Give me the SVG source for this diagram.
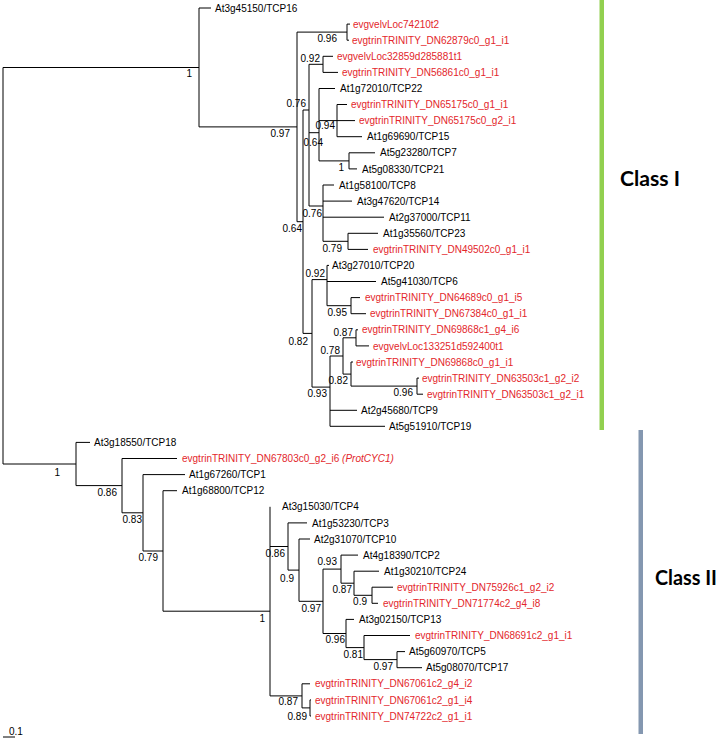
<svg xmlns="http://www.w3.org/2000/svg" width="721" height="739" viewBox="0 0 721 739">
<style>
.br{fill:none;stroke:#000;stroke-width:1}
.lf{font-family:"Liberation Sans",Arial,sans-serif;font-size:10px;fill:#000}
.rd{fill:#e3262b}
.bs{font-family:"Liberation Sans",Arial,sans-serif;font-size:10px;fill:#000;text-anchor:end}
.cl{font-family:Lato,"Open Sans",sans-serif;font-size:21px;font-weight:bold;fill:#000}
</style>
<rect width="721" height="739" fill="#fff"/>
<g id="connectors" class="br">
<path d="M3,67.5V464M3,67.5H199M3,464H76"/>
<path d="M199,8V126.9M199,8H211M199,126.9H297"/>
<path d="M297,32.1V221.7M297,32.1H347M297,221.7H303"/>
<path d="M347,24.1V40.2M347,24.1H350M347,40.2H349"/>
<path d="M303,110V333.4M303,110H309M303,333.4H312"/>
<path d="M309,64.3V206M309,64.3H323M309,132.7H319M309,206H323"/>
<path d="M323,56.3V72.4M323,56.3H333M323,72.4H338"/>
<path d="M319,88.5V160.9M319,88.5H335M319,120.6H337M319,160.9H349"/>
<path d="M337,104.5V136.7M337,104.5H347M337,120.6H355M337,136.7H362"/>
<path d="M349,152.8V168.9M349,152.8H375M349,168.9H357"/>
<path d="M323,185V241.3M323,185H334M323,201.1H352M323,217.2H384M323,241.3H348"/>
<path d="M348,233.3V249.4M348,233.3H378M348,249.4H368"/>
<path d="M312,279.6V387.1M312,279.6H327M312,387.1H330"/>
<path d="M327,265.4V305.7M327,265.4H329M327,281.5H376M327,305.7H351"/>
<path d="M351,297.6V313.7M351,297.6H360M351,313.7H366"/>
<path d="M330,356V426.3M330,356H343M330,410.3H357M330,426.3H385"/>
<path d="M343,337.8V374.1M343,337.8H356M343,374.1H351"/>
<path d="M356,329.8V345.9M356,329.8H358M356,345.9H369"/>
<path d="M351,362V386.1M351,362H353M351,386.1H417"/>
<path d="M417,378.1V394.2M417,378.1H419M417,394.2H423"/>
<path d="M76,442.4V485.6M76,442.4H90M76,485.6H122"/>
<path d="M122,458.5V512.8M122,458.5H177M122,512.8H143"/>
<path d="M143,474.6V551M143,474.6H185M143,551H163"/>
<path d="M163,490.7V611.2M163,490.7H177M163,611.2H270"/>
<path d="M270,506.8V695.9M270,546.5H288M270,695.9H302"/>
<path d="M288,522.9V570.1M288,522.9H307M288,570.1H299"/>
<path d="M299,539V601.3M299,539H310M299,601.3H323"/>
<path d="M323,569.1V633.5M323,569.1H341M323,633.5H346"/>
<path d="M341,555.1V583.2M341,555.1H358M341,583.2H354"/>
<path d="M354,571.2V595.3M354,571.2H379M354,595.3H372"/>
<path d="M372,587.2V603.3M372,587.2H393M372,603.3H378"/>
<path d="M346,619.4V647.6M346,619.4H354M346,647.6H364"/>
<path d="M364,635.5V659.6M364,635.5H410M364,659.6H397"/>
<path d="M397,651.6V667.7M397,651.6H405M397,667.7H422"/>
<path d="M302,683.8V707.9M302,683.8H310M302,707.9H310"/>
<path d="M310,699.9V716M310,699.9H311M310,716H311"/>
<path d="M3,737H15"/>
</g>
<g id="leaves">
<g id="leaf-TCP16"><text class="lf" x="215" y="11.6">At3g45150/TCP16</text></g>
<g id="leaf-velv74210"><text class="lf rd" x="353" y="27.7">evgvelvLoc74210t2</text></g>
<g id="leaf-DN62879"><text class="lf rd" x="352" y="43.8">evgtrinTRINITY_DN62879c0_g1_i1</text></g>
<g id="leaf-velv32859"><text class="lf rd" x="337" y="59.9">evgvelvLoc32859d285881t1</text></g>
<g id="leaf-DN56861"><text class="lf rd" x="342" y="76">evgtrinTRINITY_DN56861c0_g1_i1</text></g>
<g id="leaf-TCP22"><text class="lf" x="340" y="92.1">At1g72010/TCP22</text></g>
<g id="leaf-DN65175g1"><text class="lf rd" x="351" y="108.1">evgtrinTRINITY_DN65175c0_g1_i1</text></g>
<g id="leaf-DN65175g2"><text class="lf rd" x="359" y="124.2">evgtrinTRINITY_DN65175c0_g2_i1</text></g>
<g id="leaf-TCP15"><text class="lf" x="367" y="140.3">At1g69690/TCP15</text></g>
<g id="leaf-TCP7"><text class="lf" x="380" y="156.4">At5g23280/TCP7</text></g>
<g id="leaf-TCP21"><text class="lf" x="362" y="172.5">At5g08330/TCP21</text></g>
<g id="leaf-TCP8"><text class="lf" x="339" y="188.6">At1g58100/TCP8</text></g>
<g id="leaf-TCP14"><text class="lf" x="357" y="204.7">At3g47620/TCP14</text></g>
<g id="leaf-TCP11"><text class="lf" x="389" y="220.8">At2g37000/TCP11</text></g>
<g id="leaf-TCP23"><text class="lf" x="383" y="236.9">At1g35560/TCP23</text></g>
<g id="leaf-DN49502"><text class="lf rd" x="373" y="253">evgtrinTRINITY_DN49502c0_g1_i1</text></g>
<g id="leaf-TCP20"><text class="lf" x="332" y="269">At3g27010/TCP20</text></g>
<g id="leaf-TCP6"><text class="lf" x="381" y="285.1">At5g41030/TCP6</text></g>
<g id="leaf-DN64689"><text class="lf rd" x="365" y="301.2">evgtrinTRINITY_DN64689c0_g1_i5</text></g>
<g id="leaf-DN67384"><text class="lf rd" x="370" y="317.3">evgtrinTRINITY_DN67384c0_g1_i1</text></g>
<g id="leaf-DN69868c1"><text class="lf rd" x="362" y="333.4">evgtrinTRINITY_DN69868c1_g4_i6</text></g>
<g id="leaf-velv133251"><text class="lf rd" x="373" y="349.5">evgvelvLoc133251d592400t1</text></g>
<g id="leaf-DN69868c0"><text class="lf rd" x="356" y="365.6">evgtrinTRINITY_DN69868c0_g1_i1</text></g>
<g id="leaf-DN63503i2"><text class="lf rd" x="422" y="381.7">evgtrinTRINITY_DN63503c1_g2_i2</text></g>
<g id="leaf-DN63503i1"><text class="lf rd" x="427" y="397.8">evgtrinTRINITY_DN63503c1_g2_i1</text></g>
<g id="leaf-TCP9"><text class="lf" x="361" y="413.9">At2g45680/TCP9</text></g>
<g id="leaf-TCP19"><text class="lf" x="389" y="429.9">At5g51910/TCP19</text></g>
<g id="leaf-TCP18"><text class="lf" x="94" y="446">At3g18550/TCP18</text></g>
<g id="leaf-DN67803"><text class="lf rd" x="182" y="462.1">evgtrinTRINITY_DN67803c0_g2_i6 <tspan font-style="italic">(ProtCYC1)</tspan></text></g>
<g id="leaf-TCP1"><text class="lf" x="189" y="478.2">At1g67260/TCP1</text></g>
<g id="leaf-TCP12"><text class="lf" x="182" y="494.3">At1g68800/TCP12</text></g>
<g id="leaf-TCP4"><text class="lf" x="282" y="510.4">At3g15030/TCP4</text></g>
<g id="leaf-TCP3"><text class="lf" x="312" y="526.5">At1g53230/TCP3</text></g>
<g id="leaf-TCP10"><text class="lf" x="314" y="542.6">At2g31070/TCP10</text></g>
<g id="leaf-TCP2"><text class="lf" x="363" y="558.7">At4g18390/TCP2</text></g>
<g id="leaf-TCP24"><text class="lf" x="384" y="574.8">At1g30210/TCP24</text></g>
<g id="leaf-DN75926"><text class="lf rd" x="397" y="590.8">evgtrinTRINITY_DN75926c1_g2_i2</text></g>
<g id="leaf-DN71774"><text class="lf rd" x="383" y="606.9">evgtrinTRINITY_DN71774c2_g4_i8</text></g>
<g id="leaf-TCP13"><text class="lf" x="359" y="623">At3g02150/TCP13</text></g>
<g id="leaf-DN68691"><text class="lf rd" x="415" y="639.1">evgtrinTRINITY_DN68691c2_g1_i1</text></g>
<g id="leaf-TCP5"><text class="lf" x="409" y="655.2">At5g60970/TCP5</text></g>
<g id="leaf-TCP17"><text class="lf" x="426" y="671.3">At5g08070/TCP17</text></g>
<g id="leaf-DN67061g4"><text class="lf rd" x="315" y="687.4">evgtrinTRINITY_DN67061c2_g4_i2</text></g>
<g id="leaf-DN67061g1"><text class="lf rd" x="315" y="703.5">evgtrinTRINITY_DN67061c2_g1_i4</text></g>
<g id="leaf-DN74722"><text class="lf rd" x="315" y="719.6">evgtrinTRINITY_DN74722c2_g1_i1</text></g>
</g>
<g id="support">
<g id="n-root1"><text class="bs" x="192" y="76.6">1</text></g>
<g id="n-097"><text class="bs" x="290" y="136.6">0.97</text></g>
<g id="n-096"><text class="bs" x="337" y="41.6">0.96</text></g>
<g id="n-092"><text class="bs" x="320" y="61.6">0.92</text></g>
<g id="n-076a"><text class="bs" x="306" y="106.6">0.76</text></g>
<g id="n-094"><text class="bs" x="335" y="128.6">0.94</text></g>
<g id="n-064a"><text class="bs" x="323" y="145.6">0.64</text></g>
<g id="n-1a"><text class="bs" x="344" y="170.6">1</text></g>
<g id="n-076b"><text class="bs" x="322" y="216.6">0.76</text></g>
<g id="n-064b"><text class="bs" x="302" y="231.6">0.64</text></g>
<g id="n-079"><text class="bs" x="342" y="251.6">0.79</text></g>
<g id="n-092b"><text class="bs" x="325" y="276.6">0.92</text></g>
<g id="n-095"><text class="bs" x="347" y="315.6">0.95</text></g>
<g id="n-087"><text class="bs" x="353" y="335.6">0.87</text></g>
<g id="n-078"><text class="bs" x="340" y="353.6">0.78</text></g>
<g id="n-082"><text class="bs" x="308" y="344.6">0.82</text></g>
<g id="n-082b"><text class="bs" x="348" y="383.6">0.82</text></g>
<g id="n-096b"><text class="bs" x="413" y="395.6">0.96</text></g>
<g id="n-093"><text class="bs" x="327" y="396.6">0.93</text></g>
<g id="n-1c"><text class="bs" x="60" y="475.6">1</text></g>
<g id="n-086c"><text class="bs" x="117" y="495.6">0.86</text></g>
<g id="n-083"><text class="bs" x="142" y="522.6">0.83</text></g>
<g id="n-079c"><text class="bs" x="158" y="560.6">0.79</text></g>
<g id="n-1d"><text class="bs" x="265" y="621.6">1</text></g>
<g id="n-086d"><text class="bs" x="285" y="556.6">0.86</text></g>
<g id="n-09"><text class="bs" x="294" y="581.6">0.9</text></g>
<g id="n-097c"><text class="bs" x="321" y="611.6">0.97</text></g>
<g id="n-093c"><text class="bs" x="337" y="564.6">0.93</text></g>
<g id="n-087d"><text class="bs" x="352" y="592.6">0.87</text></g>
<g id="n-09b"><text class="bs" x="367" y="604.6">0.9</text></g>
<g id="n-096c"><text class="bs" x="345" y="642.6">0.96</text></g>
<g id="n-081"><text class="bs" x="363" y="657.6">0.81</text></g>
<g id="n-097b"><text class="bs" x="393" y="669.6">0.97</text></g>
<g id="n-087c"><text class="bs" x="298" y="704.6">0.87</text></g>
<g id="n-089"><text class="bs" x="307" y="719.6">0.89</text></g>
<g id="scale"><text class="lf" x="9" y="735">0.1</text></g>
</g>
<g id="classI">
<rect x="599.5" y="0" width="4.5" height="430" fill="#92d050"/>
<text class="cl" x="620" y="186" textLength="60" lengthAdjust="spacingAndGlyphs">Class I</text>
</g>
<g id="classII">
<rect x="638.5" y="430" width="4.5" height="304" fill="#8497b0"/>
<text class="cl" x="655" y="585" textLength="62" lengthAdjust="spacingAndGlyphs">Class II</text>
</g>
</svg>
